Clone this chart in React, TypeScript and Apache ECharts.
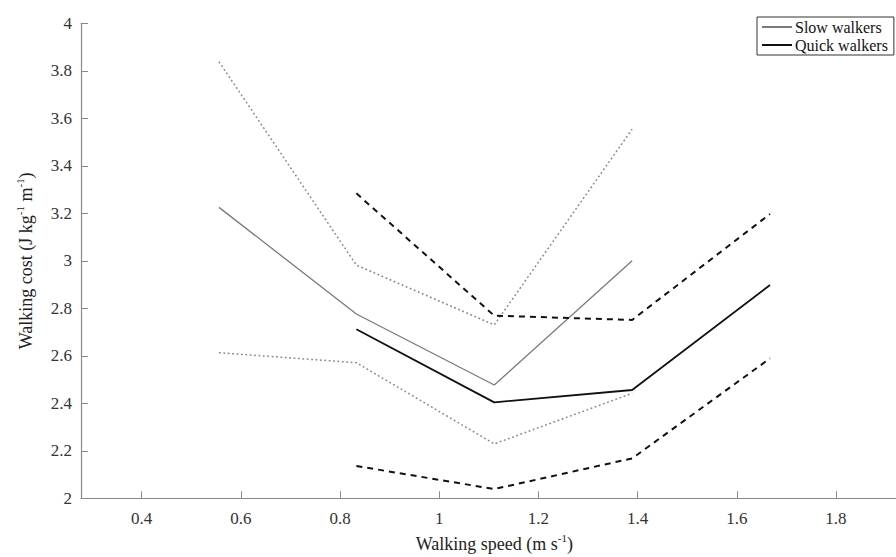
import React, { useEffect, useRef } from "react";
import * as echarts from "echarts";

const slowSpeeds = [0.556, 0.833, 1.111, 1.389];
const quickSpeeds = [0.833, 1.111, 1.389, 1.667];
const slowMean = [3.225, 2.776, 2.477, 3.0];
const slowUpper = [3.838, 2.982, 2.73, 3.554];
const slowLower = [2.613, 2.571, 2.229, 2.442];
const quickMean = [2.712, 2.404, 2.456, 2.898];
const quickUpper = [3.284, 2.769, 2.751, 3.197];
const quickLower = [2.136, 2.039, 2.168, 2.589];
const xTicks = [0.4, 0.6, 0.8, 1, 1.2, 1.4, 1.6, 1.8];

const FONT = "Liberation Serif, DejaVu Serif, serif";

const pair = (xs: number[], ys: number[]) => xs.map((x, i) => [x, ys[i]]);

export default function App() {
  const ref = useRef<HTMLDivElement>(null);
  useEffect(() => {
    if (!ref.current) return;
    const chart = echarts.init(ref.current, undefined, { renderer: "svg" });
    const gray = "#7a7a7a";
    const black = "#111";
    const line = (name: string, xs: number[], ys: number[], color: string, width: number, type: any) => ({
      name,
      type: "line",
      data: pair(xs, ys),
      symbol: "none",
      lineStyle: { color, width, type },
      itemStyle: { color },
      emphasis: { disabled: true },
    });
    const supRich = { sup: { fontFamily: FONT, fontSize: 11, color: "#222", padding: [0, 0, 12, 0] } };
    chart.setOption({
      animation: false,
      textStyle: { fontFamily: FONT },
      grid: { left: 81, top: 23.3, right: 12.4, bottom: 58.7, containLabel: false, outerBoundsMode: "none" },
      legend: {
        data: ["Slow walkers", "Quick walkers"],
        orient: "vertical",
        left: 757,
        top: 17,
        borderColor: "#333",
        borderWidth: 1,
        padding: [2, 6, 2, 4],
        itemWidth: 30,
        itemHeight: 14,
        itemGap: 2,
        itemStyle: { opacity: 0 },
        textStyle: { fontFamily: FONT, fontSize: 16, color: "#111", padding: [0, 0, 0, -2] },
      },
      xAxis: {
        type: "value",
        min: 0.2778,
        max: 1.9444,
        name: "Walking speed (m s{sup|-1})",
        nameLocation: "middle",
        nameGap: 29,
        nameTextStyle: { fontFamily: FONT, fontSize: 18, color: "#222", rich: supRich },
        splitLine: { show: false },
        axisLine: { lineStyle: { color: "#888", width: 1.2 } },
        axisTick: { inside: true, length: 7, lineStyle: { color: "#888" }, customValues: xTicks },
        axisLabel: {
          customValues: xTicks,
          fontFamily: FONT,
          fontSize: 17,
          color: "#333",
          margin: 12,
        },
      },
      yAxis: {
        type: "value",
        min: 2,
        max: 4,
        interval: 0.2,
        name: "Walking cost (J kg{sup|-1} m{sup|-1})",
        nameLocation: "middle",
        nameGap: 44,
        nameTextStyle: { fontFamily: FONT, fontSize: 18, color: "#222", rich: supRich },
        splitLine: { show: false },
        axisLine: { show: true, lineStyle: { color: "#888", width: 1.2 } },
        axisTick: { show: true, inside: true, length: 7, lineStyle: { color: "#888" } },
        axisLabel: { fontFamily: FONT, fontSize: 17, color: "#333", margin: 9 },
      },
      series: [
        line("Slow upper", slowSpeeds, slowUpper, "#888", 1.5, [1.8, 2.6]),
        line("Slow lower", slowSpeeds, slowLower, "#888", 1.5, [1.8, 2.6]),
        line("Slow walkers", slowSpeeds, slowMean, gray, 1.3, "solid"),
        line("Quick upper", quickSpeeds, quickUpper, black, 2, [6, 5]),
        line("Quick lower", quickSpeeds, quickLower, black, 2, [6, 5]),
        line("Quick walkers", quickSpeeds, quickMean, black, 1.8, "solid"),
      ],
    });
    return () => chart.dispose();
  }, []);
  return (
    <div style={{ position: "absolute", left: 0, top: 0, width: 896, height: 557, overflow: "hidden", background: "#fff" }}>
      <div ref={ref} style={{ width: 920, height: 557 }} />
    </div>
  );
}
